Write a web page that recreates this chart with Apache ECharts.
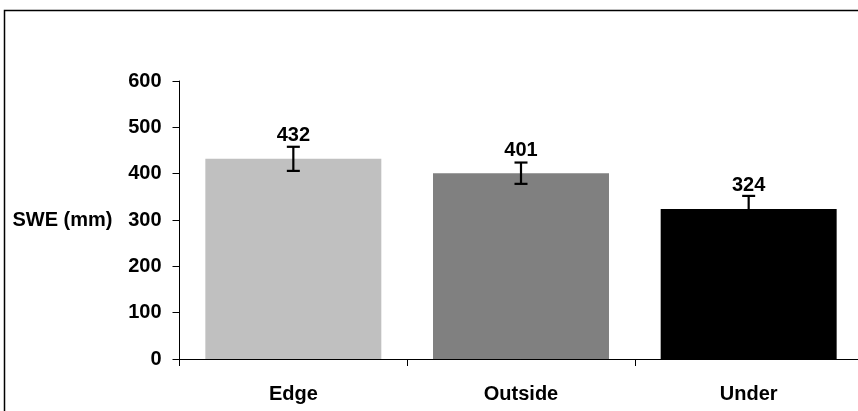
<!DOCTYPE html>
<html>
<head>
<meta charset="utf-8">
<script src="https://cdn.jsdelivr.net/npm/echarts@6/dist/echarts.min.js"></script>
<style>
html,body{margin:0;padding:0;background:#fff;overflow:hidden;width:858px;height:411px;}
#chart{width:880px;height:411px;}
</style>
</head>
<body>
<div id="chart"></div>
<script>
var categories = ['Edge', 'Outside', 'Under'];
var values = [432, 401, 324];
var errors = [26, 23, 28];
var barColors = ['#C0C0C0', '#808080', '#000000'];
var yTicks = [0, 100, 200, 300, 400, 500, 600];

var FONT = '"Liberation Sans", Arial, sans-serif';
var chart = echarts.init(document.getElementById('chart'));

var option = {
  animation: false,
  backgroundColor: '#fff',
  graphic: [{
    type: 'rect',
    shape: {x: 4.5, y: 10.5, width: 900, height: 500},
    style: {fill: 'none', stroke: '#000', lineWidth: 1.5},
    silent: true
  }],
  grid: {left: 179.5, top: 81, width: 683, height: 278},
  xAxis: {
    type: 'category',
    data: categories,
    axisLine: {lineStyle: {color: '#000', width: 1}},
    axisTick: {show: true, length: 7, lineStyle: {color: '#000'}},
    axisLabel: {color: '#000', fontFamily: FONT, fontWeight: 'bold', fontSize: 20, margin: 25}
  },
  yAxis: {
    type: 'value',
    min: yTicks[0],
    max: yTicks[yTicks.length - 1],
    interval: 100,
    name: 'SWE (mm)',
    nameLocation: 'middle',
    nameRotate: 0,
    nameGap: 67,
    nameTextStyle: {color: '#000', fontFamily: FONT, fontWeight: 'bold', fontSize: 20, align: 'right', verticalAlign: 'middle'},
    splitLine: {show: false},
    axisLine: {show: true, lineStyle: {color: '#000', width: 1}},
    axisTick: {show: true, length: 7, lineStyle: {color: '#000'}},
    axisLabel: {color: '#000', fontFamily: FONT, fontWeight: 'bold', fontSize: 20, margin: 18}
  },
  series: [{
    type: 'bar',
    data: values.map(function (v, i) { return {value: v, itemStyle: {color: barColors[i]}}; }),
    barCategoryGap: '22.7%',
    label: {
      show: true,
      position: 'top',
      distance: 13,
      color: '#000',
      fontFamily: FONT,
      fontWeight: 'bold',
      fontSize: 20
    }
  }, {
    type: 'custom',
    data: values.map(function (v, i) { return [i, v, errors[i]]; }),
    renderItem: function (params, api) {
      var x = api.value(0);
      var v = api.value(1);
      var e = api.value(2);
      var top = api.coord([x, v + e]);
      var bot = api.coord([x, v - e]);
      var hw = 6.5;
      var style = {stroke: '#000', lineWidth: 2.2};
      return {
        type: 'group',
        children: [
          {type: 'line', shape: {x1: top[0], y1: top[1], x2: bot[0], y2: bot[1]}, style: style},
          {type: 'line', shape: {x1: top[0] - hw, y1: top[1], x2: top[0] + hw, y2: top[1]}, style: style},
          {type: 'line', shape: {x1: bot[0] - hw, y1: bot[1], x2: bot[0] + hw, y2: bot[1]}, style: style}
        ]
      };
    },
    z: 5
  }]
};
chart.setOption(option);
</script>
</body>
</html>
